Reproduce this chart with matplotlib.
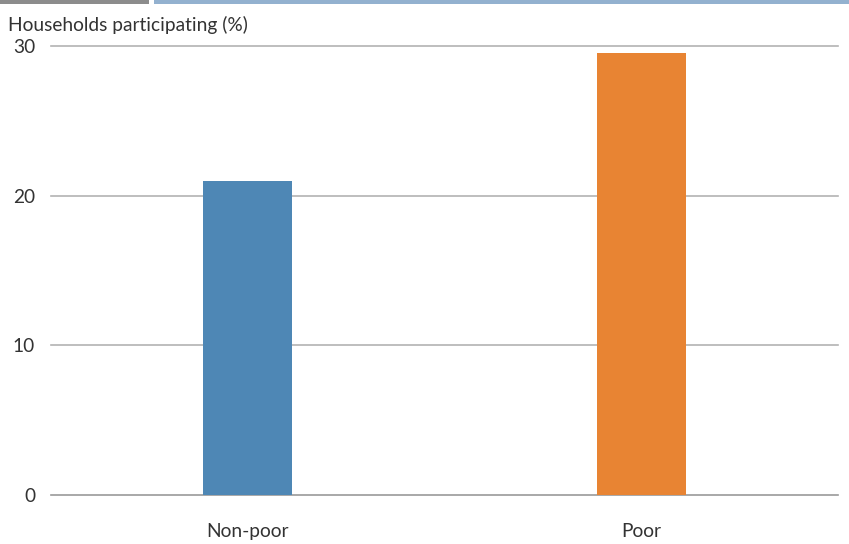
import matplotlib
matplotlib.use("Agg")
import matplotlib.pyplot as plt
from matplotlib.patches import Rectangle

categories = ["Non-poor", "Poor"]
values = [21.0, 29.5]
colors = ["#4e87b5", "#e88433"]
yticks = [0, 10, 20, 30]

plt.rcParams['font.family'] = ['Lato', 'DejaVu Sans']

fig = plt.figure(figsize=(8.49, 5.44), dpi=100)
W, H = 849, 544
ax = fig.add_axes([51 / W, 1 - 495 / H, (838 - 51) / W, (495 - 46) / H])

x = list(range(len(categories)))
ax.bar(x, values, width=0.226, color=colors, zorder=3)
ax.set_xlim(-0.5, 1.5)
ax.set_ylim(0, 30)
ax.set_yticks(yticks)
ax.set_yticklabels([str(t) for t in yticks])
ax.set_xticks(x)
ax.set_xticklabels(categories)
for t in yticks:
    ax.axhline(t, color="#b3b3b3" if t else "#9a9a9a", lw=1.2, zorder=1, clip_on=False)
for s in ax.spines.values():
    s.set_visible(False)
ax.tick_params(axis="both", length=0, labelsize=13.8, colors="#333333")
ax.tick_params(axis="y", pad=11.5)
ax.tick_params(axis="x", pad=20)

fig.text(8 / W, 1 - 25 / H, "Households participating (%)", fontsize=13.8,
         color="#333333", va="center", ha="left")

fig.add_artist(Rectangle((0, 1 - 4 / H), 149 / W, 4 / H, transform=fig.transFigure,
                         color="#8c8c8c", lw=0))
fig.add_artist(Rectangle((154 / W, 1 - 4 / H), (W - 154) / W, 4 / H, transform=fig.transFigure,
                         color="#93b1cf", lw=0))

fig.savefig("out.png", dpi=100)
